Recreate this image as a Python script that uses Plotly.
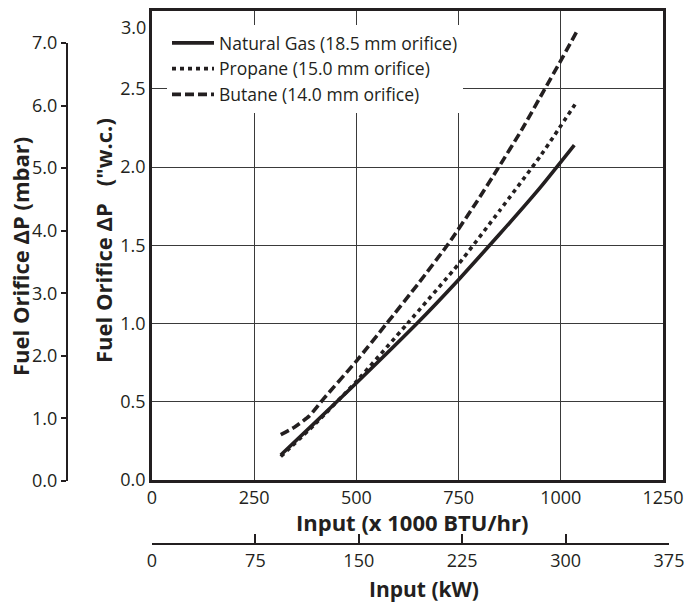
import plotly.graph_objects as go

# ---- data ----
ng_x = [315, 400, 500, 648, 750, 850, 950, 1033]
ng_y = [0.16, 0.37, 0.62, 1.00, 1.28, 1.57, 1.87, 2.14]

pr_x = [315, 400, 500, 625, 750, 850, 950, 1040]
pr_y = [0.15, 0.36, 0.63, 1.00, 1.38, 1.72, 2.07, 2.42]

bu_x = [315, 350, 385, 420, 500, 574, 650, 725, 790, 846, 905, 959, 1000, 1040]
bu_y = [0.29, 0.34, 0.41, 0.52, 0.76, 1.00, 1.25, 1.51, 1.76, 1.99, 2.24, 2.49, 2.68, 2.87]

series_names = ["Natural Gas (18.5 mm orifice)", "Propane (15.0 mm orifice)", "Butane (14.0 mm orifice)"]
btu_ticks = [0, 250, 500, 750, 1000, 1250]
kw_ticks = [0, 75, 150, 225, 300, 375]
wc_ticks = [0.0, 0.5, 1.0, 1.5, 2.0, 2.5, 3.0]
mbar_ticks = [0.0, 1.0, 2.0, 3.0, 4.0, 5.0, 6.0, 7.0]

W, H = 686, 606
INK = "#231f20"
FONT = "Open Sans"

def px_x(p):
    return p / W

def px_y(p):
    return 1 - p / H

fig = go.Figure()
dashes = ["solid", "4px,4px", "9px,4px"]
for name, xs, ys, d in zip(series_names, [ng_x, pr_x, bu_x], [ng_y, pr_y, bu_y], dashes):
    fig.add_trace(go.Scatter(x=xs, y=ys, name=name, mode="lines",
                             line=dict(color=INK, width=3.6, dash=d, shape="spline", smoothing=0.5)))

# dummy trace to carry the secondary axes
fig.add_trace(go.Scatter(x=[None], y=[None], xaxis="x2", yaxis="y2", showlegend=False, hoverinfo="skip"))

tickfont = dict(family=FONT, size=18, color=INK)

fig.update_layout(
    template="none",
    width=W, height=H,
    autosize=False,
    margin=dict(l=0, r=0, t=0, b=0),
    paper_bgcolor="white",
    plot_bgcolor="rgba(0,0,0,0)",
    font=dict(family=FONT, color=INK),
    showlegend=True,
    legend=dict(x=px_x(167), y=px_y(25), xanchor="left", yanchor="top",
                bgcolor="white", borderwidth=0, font=dict(family=FONT, size=17.5, color=INK),
                tracegroupgap=0, itemwidth=42),
    xaxis=dict(domain=[px_x(152), px_x(663)], range=[0, 1250], tickvals=btu_ticks,
               showgrid=True, gridcolor="#3a3a3a", gridwidth=1.2, zeroline=False,
               showline=True, mirror=True, linecolor=INK, linewidth=2.6,
               ticks="", tickfont=tickfont, automargin=False, anchor="y",
               ticklabeloverflow="allow"),
    # the top label (3.0) sits below its gridline in the reference, so it is placed separately
    yaxis=dict(domain=[px_y(480), px_y(10.5)], range=[0, 3.0], tickvals=wc_ticks[:-1], tickformat=".1f",
               showgrid=True, gridcolor="#3a3a3a", gridwidth=1.2, zeroline=False,
               showline=True, mirror=True, linecolor=INK, linewidth=2.6,
               ticks="", tickfont=tickfont, automargin=False, anchor="x",
               ticklabeloverflow="allow"),
    xaxis2=dict(domain=[px_x(152), px_x(669)], range=[0, 375], tickvals=kw_ticks,
                anchor="free", position=px_y(544), side="bottom",
                showgrid=False, zeroline=False, showline=True, linecolor=INK, linewidth=2,
                ticks="inside", ticklen=9, tickwidth=1.6, tickcolor=INK,
                tickfont=tickfont, automargin=False, ticklabeloverflow="allow"),
    yaxis2=dict(domain=[px_y(481), px_y(43)], range=[0, 7.0], tickvals=mbar_ticks, tickformat=".1f",
                anchor="free", position=px_x(67), side="left",
                showgrid=False, zeroline=False, showline=True, linecolor=INK, linewidth=2,
                ticks="outside", ticklen=5, tickwidth=1.6, tickcolor=INK,
                tickfont=tickfont, automargin=False, ticklabeloverflow="allow"),
)

fig.add_annotation(text=f"{wc_ticks[-1]:.1f}", x=px_x(148), y=px_y(27), xref="paper", yref="paper",
                   showarrow=False, font=tickfont, xanchor="right", yanchor="middle")

title_font = dict(family=FONT, size=22, color=INK)
fig.add_annotation(text="<b>Input (x 1000 BTU/hr)</b>", x=px_x(412), y=px_y(522), xref="paper", yref="paper",
                   showarrow=False, font=title_font, xanchor="center", yanchor="middle")
fig.add_annotation(text="<b>Input (kW)</b>", x=px_x(424), y=px_y(589), xref="paper", yref="paper",
                   showarrow=False, font=dict(family=FONT, size=21, color=INK), xanchor="center", yanchor="middle")
fig.add_annotation(text="<b>Fuel Orifice ΔP&nbsp;&nbsp;&nbsp;(\"w.c.)</b>", x=px_x(103), y=px_y(240), xref="paper", yref="paper",
                   showarrow=False, font=title_font, textangle=-90, xanchor="center", yanchor="middle")
fig.add_annotation(text="<b>Fuel Orifice ΔP (mbar)</b>", x=px_x(20), y=px_y(257), xref="paper", yref="paper",
                   showarrow=False, font=title_font, textangle=-90, xanchor="center", yanchor="middle")

fig.write_html("out.html")
